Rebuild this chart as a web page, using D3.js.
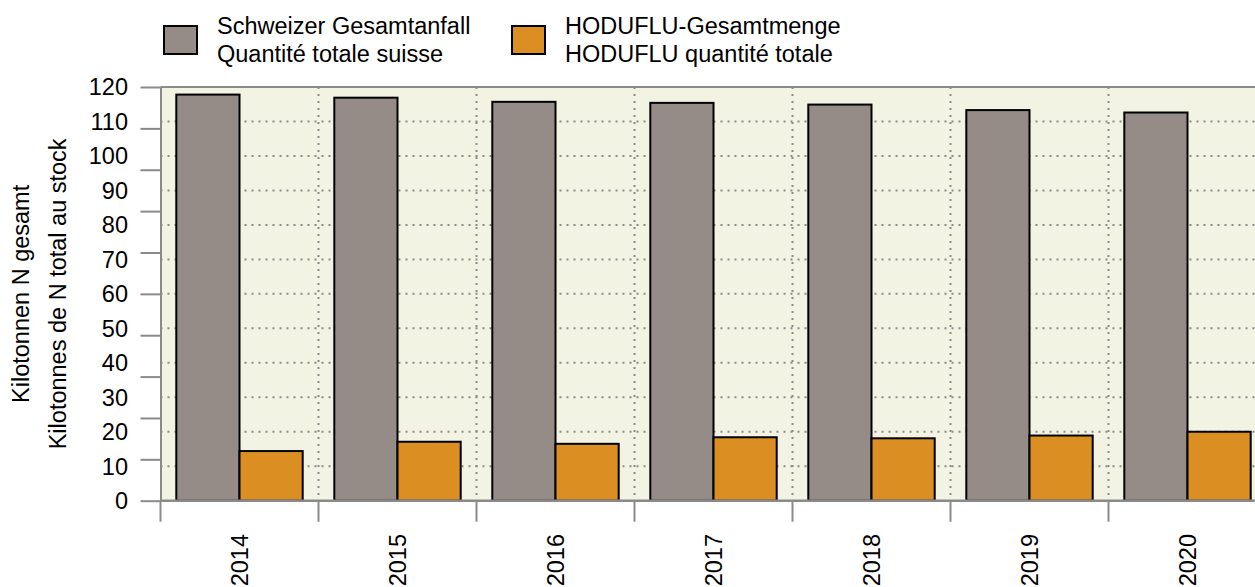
<!DOCTYPE html>
<html>
<head>
<meta charset="utf-8">
<script src="https://cdn.jsdelivr.net/npm/d3@7"></script>
<style>
  body { margin: 0; background: #fff; }
  text { font-family: "Liberation Sans", Arial, sans-serif; fill: #000; }
</style>
</head>
<body>
<div id="chart"></div>
<script>
var years = ['2014', '2015', '2016', '2017', '2018', '2019', '2020'];
var seriesNames = ['gesamt', 'hoduflu'];
var gesamtValues = [117.8, 116.9, 115.7, 115.4, 114.9, 113.3, 112.6];
var hodufluValues = [14.4, 17.1, 16.5, 18.4, 18.1, 18.9, 20.0];
var yLabelValues = [0, 10, 20, 30, 40, 50, 60, 70, 80, 90, 100, 110, 120];
var yTickValues = [0, 12, 24, 36, 48, 60, 72, 84, 96, 108, 120];
var legendLabels = [
  ['Schweizer Gesamtanfall', 'Quantité totale suisse'],
  ['HODUFLU-Gesamtmenge', 'HODUFLU quantité totale']
];
var colors = ['#958c87', '#db8e22'];

var w = 1255, h = 587;
var plotLeft = 160.5, plotTop = 87, plotBottom = 500.7, plotRight = 1266.5;
var gray = '#8a8a8a';
var fontSize = '23.5px';

var svg = d3.select('#chart').append('svg')
  .attr('width', w)
  .attr('height', h);

var y = d3.scaleLinear().domain([0, 120]).range([plotBottom, plotTop]);
var x0 = d3.scaleBand().domain(years).range([plotLeft, plotRight]).padding(0);
var x1 = d3.scaleBand().domain(seriesNames).range([0, x0.bandwidth()])
  .paddingInner(0).paddingOuter(0.25);

// plot background
svg.append('rect')
  .attr('x', plotLeft).attr('y', plotTop)
  .attr('width', plotRight - plotLeft).attr('height', plotBottom - plotTop)
  .attr('fill', '#f3f3e3');

// dotted grid
svg.selectAll('.hgrid')
  .data(d3.range(10, 120, 10))
  .enter()
  .append('line')
  .attr('x1', plotLeft).attr('x2', plotRight)
  .attr('y1', function(d) { return y(d); })
  .attr('y2', function(d) { return y(d); })
  .attr('stroke', gray).attr('stroke-width', 2)
  .attr('stroke-dasharray', '2,5');

svg.selectAll('.vgrid')
  .data(years.slice(1))
  .enter()
  .append('line')
  .attr('x1', function(d) { return x0(d); })
  .attr('x2', function(d) { return x0(d); })
  .attr('y1', plotTop).attr('y2', plotBottom)
  .attr('stroke', gray).attr('stroke-width', 2)
  .attr('stroke-dasharray', '2,5');

// bars
var groups = svg.selectAll('.grp')
  .data(years)
  .enter()
  .append('g')
  .attr('transform', function(d) { return 'translate(' + x0(d) + ',0)'; });

groups.selectAll('rect')
  .data(function(d, i) {
    return [
      { key: 'gesamt', value: gesamtValues[i] },
      { key: 'hoduflu', value: hodufluValues[i] }
    ];
  })
  .enter()
  .append('rect')
  .attr('x', function(d) { return x1(d.key); })
  .attr('y', function(d) { return y(d.value); })
  .attr('width', x1.bandwidth())
  .attr('height', function(d) { return y(0) - y(d.value); })
  .attr('fill', function(d, i) { return colors[i]; })
  .attr('stroke', '#000')
  .attr('stroke-width', 2);

// top border
svg.append('line')
  .attr('x1', plotLeft).attr('x2', plotRight).attr('y1', plotTop).attr('y2', plotTop)
  .attr('stroke', gray).attr('stroke-width', 2);

// y axis ticks (no labels), labels placed separately at tens
var yAxis = d3.axisLeft(y).tickValues(yTickValues).tickSize(20).tickSizeOuter(0).tickFormat('');
var yG = svg.append('g').attr('transform', 'translate(' + plotLeft + ',0)').call(yAxis);
yG.select('.domain').attr('stroke', gray).attr('stroke-width', 2);
yG.selectAll('.tick line').attr('stroke', gray).attr('stroke-width', 2);

svg.selectAll('.ylab')
  .data(yLabelValues)
  .enter()
  .append('text')
  .attr('x', 128)
  .attr('y', function(d) { return y(d); })
  .attr('dy', '0.36em')
  .attr('text-anchor', 'end')
  .style('font-size', fontSize)
  .text(function(d) { return d; });

// x axis
var xBounds = years.map(function(d) { return x0(d); });
svg.append('line')
  .attr('x1', plotLeft).attr('x2', plotRight).attr('y1', plotBottom).attr('y2', plotBottom)
  .attr('stroke', gray).attr('stroke-width', 2.5);
svg.selectAll('.xtick')
  .data(xBounds)
  .enter()
  .append('line')
  .attr('x1', function(d) { return d; })
  .attr('x2', function(d) { return d; })
  .attr('y1', plotBottom).attr('y2', plotBottom + 21)
  .attr('stroke', gray).attr('stroke-width', 2);

svg.selectAll('.xlab')
  .data(years)
  .enter()
  .append('text')
  .attr('transform', function(d) {
    return 'translate(' + (x0(d) + x0.bandwidth() / 2) + ',' + 534 + ') rotate(-90)';
  })
  .attr('dy', '0.36em')
  .attr('text-anchor', 'end')
  .style('font-size', fontSize)
  .text(function(d) { return d; });

// y axis title
var midY = (plotTop + plotBottom) / 2;
svg.append('text')
  .attr('transform', 'translate(21,' + midY + ') rotate(-90)')
  .attr('dy', '0.36em')
  .attr('text-anchor', 'middle')
  .style('font-size', fontSize)
  .text('Kilotonnen N gesamt');
svg.append('text')
  .attr('transform', 'translate(58,' + midY + ') rotate(-90)')
  .attr('dy', '0.36em')
  .attr('text-anchor', 'middle')
  .style('font-size', fontSize)
  .text('Kilotonnes de N total au stock');

// legend
var legendX = [164, 512];
legendLabels.forEach(function(lines, i) {
  var g = svg.append('g').attr('transform', 'translate(' + legendX[i] + ',0)');
  g.append('rect')
    .attr('x', 0).attr('y', 26)
    .attr('width', 33).attr('height', 28)
    .attr('fill', colors[i])
    .attr('stroke', '#000')
    .attr('stroke-width', 2);
  g.append('text')
    .attr('x', 53).attr('y', 33.5)
    .style('font-size', fontSize)
    .text(lines[0]);
  g.append('text')
    .attr('x', 53).attr('y', 61.5)
    .style('font-size', fontSize)
    .text(lines[1]);
});
</script>
</body>
</html>
